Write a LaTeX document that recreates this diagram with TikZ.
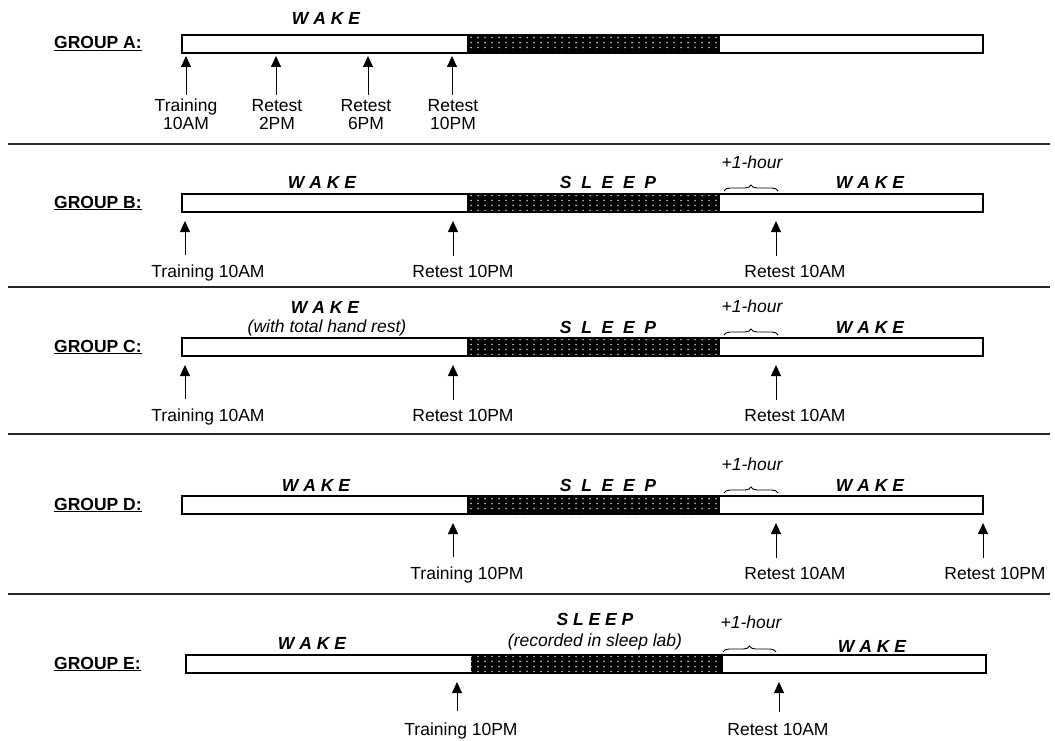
\documentclass[tikz,border=0pt]{standalone}
\usepackage{fontspec}
\setmainfont{Liberation Sans}
\usetikzlibrary{arrows.meta,positioning,decorations.pathreplacing,patterns.meta}

\tikzdeclarepattern{
  name=sleepdots,
  type=uncolored,
  bottom left={(0pt,0pt)},
  top right={(6.5pt,4.8pt)},
  tile size={(6.5pt,4.8pt)},
  code={\fill (3.25pt,2.4pt) circle (0.9pt);}
}

\tikzset{
  lbl/.style={font=\fontsize{17.5}{18}\selectfont, inner sep=0pt, anchor=base},
  grp/.style={lbl, font=\fontsize{17.5}{18}\selectfont\bfseries, anchor=base west},
  state/.style={lbl, font=\fontsize{17.5}{18}\selectfont\bfseries\itshape},
  note/.style={lbl, font=\fontsize{17.5}{18}\selectfont\itshape},
  timebar/.style={draw=black, line width=1.1pt},
  sleepbar/.style={fill=black, postaction={pattern=sleepdots, pattern color=white!85!black}},
  uparrow/.style={-{Triangle[length=11pt,width=10pt]}, line width=0.9pt},
  hourbrace/.style={decorate, decoration={brace, amplitude=6pt}, line width=0.9pt},
  sepline/.style={line width=1.3pt, black!85}
}

\begin{document}
\begin{tikzpicture}[x=1pt, y=-1pt]
  \useasboundingbox (0,0) rectangle (1055,741);

  % --- group A: wake only ---
  \begin{scope}[shift={(0,35)}]
    \node[grp] (grpA) at (54,14) {\underline{GROUP A:}};
    \node[state] (wakeA) at (326,-10) {W A K E};
    \fill[sleepbar] (467,0) rectangle (720,18);
    \draw[timebar] (182,0) rectangle (983,18);

    \coordinate (tipA1) at (186,21);
    \coordinate (tipA2) at (276,21);
    \coordinate (tipA3) at (368,21);
    \coordinate (tipA4) at (452,21);
    \node[lbl, anchor=north, align=center] (trainA) at (186,64) {Training\\10AM};
    \node[lbl, anchor=north, align=center] (retestA1) at (277,64) {Retest\\2PM};
    \node[lbl, anchor=north, align=center] (retestA2) at (366,64) {Retest\\6PM};
    \node[lbl, anchor=north, align=center] (retestA3) at (453,64) {Retest\\10PM};
    \draw[uparrow, shorten <=4pt] (trainA.north -| tipA1) -- (tipA1);
    \draw[uparrow, shorten <=4pt] (retestA1.north -| tipA2) -- (tipA2);
    \draw[uparrow, shorten <=4pt] (retestA2.north -| tipA3) -- (tipA3);
    \draw[uparrow, shorten <=4pt] (retestA3.north -| tipA4) -- (tipA4);
  \end{scope}
  \draw[sepline] (8,144) -- (1050,144);

  % --- group B ---
  \begin{scope}[shift={(0,194)}]
    \node[grp] (grpB) at (54,14) {\underline{GROUP B:}};
    \node[state] (wakeB1) at (322,-5) {W A K E};
    \node[state] (sleepB) at (608,-5) {S\ \ L\ \ E\ \ E\ \ P};
    \node[state] (wakeB2) at (870,-5) {W A K E};
    \node[note] (hourB) at (752,-26) {+1-hour};
    \draw[hourbrace] (724,-3) -- (778,-3);
    \fill[sleepbar] (467,0) rectangle (720,18);
    \draw[timebar] (182,0) rectangle (983,18);

    \coordinate (tipB1) at (185,27);
    \coordinate (tipB2) at (453,27);
    \coordinate (tipB3) at (776,27);
    \node[lbl] (trainB) at (208,83) {Training 10AM};
    \node[lbl] (retestB1) at (463,83) {Retest 10PM};
    \node[lbl] (retestB2) at (795,83) {Retest 10AM};
    \draw[uparrow, shorten <=9pt] (trainB.north -| tipB1) -- (tipB1);
    \draw[uparrow, shorten <=9pt] (retestB1.north -| tipB2) -- (tipB2);
    \draw[uparrow, shorten <=9pt] (retestB2.north -| tipB3) -- (tipB3);
  \end{scope}
  \draw[sepline] (8,287) -- (1050,287);

  % --- group C: hand rest during wake ---
  \begin{scope}[shift={(0,338)}]
    \node[grp] (grpC) at (54,14) {\underline{GROUP C:}};
    \node[state] (wakeC1) at (325,-25) {W A K E};
    \node[note] (restC) at (327,-6) {(with total hand rest)};
    \node[state] (sleepC) at (608,-5) {S\ \ L\ \ E\ \ E\ \ P};
    \node[state] (wakeC2) at (870,-5) {W A K E};
    \node[note] (hourC) at (752,-26) {+1-hour};
    \draw[hourbrace] (724,-3) -- (778,-3);
    \fill[sleepbar] (467,0) rectangle (720,18);
    \draw[timebar] (182,0) rectangle (983,18);

    \coordinate (tipC1) at (185,27);
    \coordinate (tipC2) at (453,27);
    \coordinate (tipC3) at (776,27);
    \node[lbl] (trainC) at (208,83) {Training 10AM};
    \node[lbl] (retestC1) at (463,83) {Retest 10PM};
    \node[lbl] (retestC2) at (795,83) {Retest 10AM};
    \draw[uparrow, shorten <=9pt] (trainC.north -| tipC1) -- (tipC1);
    \draw[uparrow, shorten <=9pt] (retestC1.north -| tipC2) -- (tipC2);
    \draw[uparrow, shorten <=9pt] (retestC2.north -| tipC3) -- (tipC3);
  \end{scope}
  \draw[sepline] (8,434) -- (1050,434);

  % --- group D: evening training ---
  \begin{scope}[shift={(0,496)}]
    \node[grp] (grpD) at (54,14) {\underline{GROUP D:}};
    \node[state] (wakeD1) at (316,-5) {W A K E};
    \node[state] (sleepD) at (608,-5) {S\ \ L\ \ E\ \ E\ \ P};
    \node[state] (wakeD2) at (870,-5) {W A K E};
    \node[note] (hourD) at (752,-26) {+1-hour};
    \draw[hourbrace] (724,-3) -- (778,-3);
    \fill[sleepbar] (467,0) rectangle (720,18);
    \draw[timebar] (182,0) rectangle (983,18);

    \coordinate (tipD1) at (453,27);
    \coordinate (tipD2) at (776,27);
    \coordinate (tipD3) at (983,27);
    \node[lbl] (trainD) at (467,83) {Training 10PM};
    \node[lbl] (retestD1) at (795,83) {Retest 10AM};
    \node[lbl] (retestD2) at (995,83) {Retest 10PM};
    \draw[uparrow, shorten <=9pt] (trainD.north -| tipD1) -- (tipD1);
    \draw[uparrow, shorten <=9pt] (retestD1.north -| tipD2) -- (tipD2);
    \draw[uparrow, shorten <=9pt] (retestD2.north -| tipD3) -- (tipD3);
  \end{scope}
  \draw[sepline] (8,594) -- (1050,594);

  % --- group E: sleep lab ---
  \begin{scope}[shift={(0,655)}]
    \node[grp] (grpE) at (54,14) {\underline{GROUP E:}};
    \node[state] (wakeE1) at (312,-6) {W A K E};
    \node[state] (sleepE) at (595,-30) {S L E E P};
    \node[note] (labE) at (595,-9) {(recorded in sleep lab)};
    \node[state] (wakeE2) at (872,-3) {W A K E};
    \node[note] (hourE) at (751,-27) {+1-hour};
    \draw[hourbrace] (723,-3) -- (776,-3);
    \fill[sleepbar] (471,0) rectangle (722,18);
    \draw[timebar] (186,0) rectangle (986,18);
    \draw[line width=1.8pt] (722,0) -- (722,18);

    \coordinate (tipE1) at (457,27);
    \coordinate (tipE2) at (779,27);
    \node[lbl] (trainE) at (461,80) {Training 10PM};
    \node[lbl] (retestE) at (778,80) {Retest 10AM};
    \draw[uparrow, shorten <=11pt] (trainE.north -| tipE1) -- (tipE1);
    \draw[uparrow, shorten <=11pt] (retestE.north -| tipE2) -- (tipE2);
  \end{scope}
\end{tikzpicture}
\end{document}
